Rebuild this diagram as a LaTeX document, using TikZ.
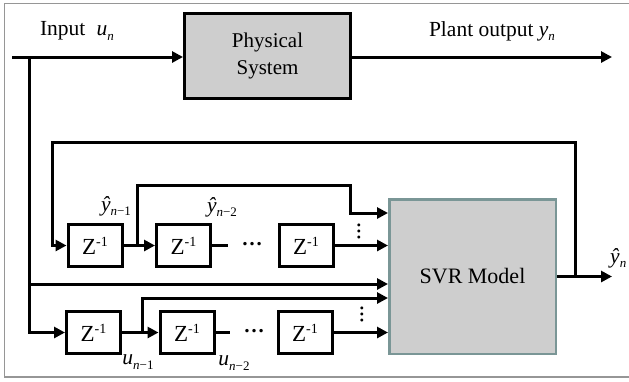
\documentclass[tikz,border=0pt]{standalone}
\usepackage{fontspec}
\setmainfont{Liberation Serif}
\usetikzlibrary{arrows.meta}
\newcommand\subsc[1]{\raisebox{-0.45ex}{\fontsize{13}{13}\selectfont #1}}
\newcommand\zinv{Z\raisebox{0.75ex}{\fontsize{14}{14}\selectfont -1}}
\definecolor{boxgray}{RGB}{206,206,206}
\definecolor{svrborder}{RGB}{122,150,150}
\definecolor{framegray}{RGB}{150,150,150}
\begin{document}
\begin{tikzpicture}[x=1pt,y=-1pt,
  lbl/.style={font=\fontsize{21.5}{24}\selectfont,inner sep=0pt},
  ln/.style={line width=3pt},
  arr/.style={ln,-{Triangle[length=11pt,width=11pt]}},
  zbox/.style={draw,line width=3pt,minimum width=54pt,minimum height=42pt,inner sep=0pt,font=\fontsize{23}{26}\selectfont},
  dotsh/.style={font=\fontsize{21}{24}\selectfont\bfseries,inner sep=0pt},
  dotsv/.style={font=\fontsize{18}{24}\selectfont\bfseries,inner sep=0pt,rotate=90}]
\useasboundingbox (0,0) rectangle (629,381);
% frame
\draw[framegray,line width=1.3pt] (640,3.5) -- (4.5,3.5) -- (4.5,377) -- (640,377);
% main blocks
\node[draw,line width=3pt,fill=boxgray,minimum width=166pt,minimum height=85pt,inner sep=0pt,
  align=center,font=\fontsize{21}{27}\selectfont] (phys) at (267.5,56) {Physical\\System};
\node[draw=svrborder,line width=2.5pt,fill=boxgray,minimum width=166.5pt,minimum height=154.5pt,inner sep=0pt,
  font=\fontsize{22}{26}\selectfont] (svr) at (472.5,276.5) {SVR Model};
% delay boxes
\node[zbox] (za1) at (95,245.5) {\zinv};
\node[zbox] (za2) at (183.5,245.5) {\zinv};
\node[zbox] (za3) at (306,245.5) {\zinv};
\node[zbox] (zb1) at (93.5,332.5) {\zinv};
\node[zbox] (zb2) at (187,332.5) {\zinv};
\node[zbox] (zb3) at (305,332.5) {\zinv};
% dots
\node[dotsh] (da) at (252,244) {…};
\node[dotsh] (db) at (254,331) {…};
\node[dotsv] (va) at (359,231) {…};
\node[dotsv] (vb) at (362,314) {…};
% coordinates
\coordinate (inL) at (12,57);
\coordinate (inJ) at (29,57);
\coordinate (midJ) at (29,284);
\coordinate (yout) at (612,57);
\coordinate (svrout) at (612,276.5);
\coordinate (fbJ) at (575,276.5);
\coordinate (fbL) at (52,142);
\coordinate (ja) at (137,245.5);
\coordinate (ta) at (350,185);
\coordinate (h213) at (0,213);
\coordinate (jb) at (142,332.5);
\coordinate (h298) at (0,298);
\coordinate (ea) at (228,245.5);
\coordinate (eb) at (230,332.5);
% connectors
\draw[arr] (inL) -- (phys.west |- inL);
\draw[arr] (inJ) |- (zb1.west);
\draw[arr] (midJ) -- (midJ -| svr.west);
\draw[arr] (phys.east |- yout) -- (yout);
\draw[arr] (svr.east) -- (svrout);
\draw[arr] (fbJ) |- (fbL) |- (za1.west);
\draw[arr] (za1.east) -- (za2.west);
\draw[arr] (ja) |- (ta) |- (svr.west |- h213);
\draw[ln] (za2.east) -- (ea);
\draw[arr] (za3.east) -- (za3.east -| svr.west);
\draw[arr] (zb1.east) -- (zb2.west);
\draw[arr] (jb) |- (svr.west |- h298);
\draw[ln] (zb2.east) -- (eb);
\draw[arr] (zb3.east) -- (zb3.east -| svr.west);
% labels
\node[lbl] (lin) at (77,31) {Input\; \textit{u}\subsc{\textit{n}}};
\node[lbl] (lout) at (492,31) {Plant output \textit{y}\subsc{\textit{n}}};
\node[lbl,anchor=west] (lyh) at (610,258) {\textit{ŷ}\subsc{\textit{n}}};
\node[lbl] (lya) at (116,206) {\textit{ŷ}\subsc{\textit{n}−1}};
\node[lbl] (lyb) at (222,207) {\textit{ŷ}\subsc{\textit{n}−2}};
\node[lbl] (lua) at (138,362) {\textit{u}\subsc{\textit{n}−1}};
\node[lbl] (lub) at (234,363) {\textit{u}\subsc{\textit{n}−2}};
\end{tikzpicture}
\end{document}
